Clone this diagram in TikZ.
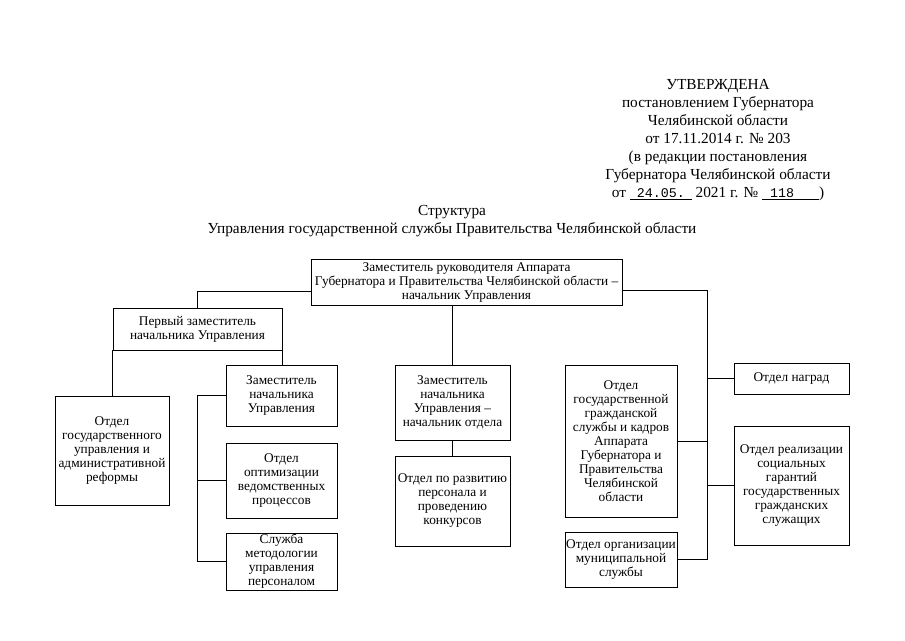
\documentclass[tikz,border=0pt]{standalone}
\usepackage{fontspec}
\setmainfont{Liberation Serif}
\setmonofont{Liberation Mono}
\usetikzlibrary{positioning}
\usetikzlibrary{calc}

\begin{document}
\begin{tikzpicture}[x=0.75pt,y=-0.75pt,
  unit/.style={draw, line width=0.6pt, align=center, inner sep=1pt, font=\fontsize{10}{10.5}\selectfont},
  boxsize/.style 2 args={minimum width=#1*0.75pt, minimum height=#2*0.75pt},
  head/.style={align=center, inner sep=0pt, font=\fontsize{11.5}{13.5}\selectfont},
  link/.style={line width=0.6pt}]
\useasboundingbox (0,0) rectangle (905,640);

\node[head] (utv) at (718,140) {УТВЕРЖДЕНА\\
постановлением Губернатора\\
Челябинской области\\
от 17.11.2014 г. № 203\\
(в редакции постановления\\
Губернатора Челябинской области\\
от \underline{\makebox[46.5pt]{\fontsize{10}{10}\ttfamily 24.05.}} 2021 г. № \underline{\makebox[42.75pt][l]{\hspace{6pt}\fontsize{10}{10}\ttfamily 118}})};

\node[head] (title) at (452,221) {Структура\\
Управления государственной службы Правительства Челябинской области};

\node[unit, boxsize={311}{46}] (top) at (466.5,282) {Заместитель руководителя Аппарата\\
Губернатора и Правительства Челябинской области –\\
начальник Управления};
\node[unit, boxsize={169}{42}] (first) at (197.5,329) {Первый заместитель\\
начальника Управления};
\node[unit, boxsize={114}{109}] (gosupr) at (112,450.5) {Отдел\\
государственного\\
управления и\\
административной\\
реформы};
\node[unit, boxsize={111}{61}] (zam) at (281.5,395.5) {Заместитель\\
начальника\\
Управления};
\node[unit, boxsize={111}{75}] (optim) at (281.5,480.5) {Отдел\\
оптимизации\\
ведомственных\\
процессов};
\node[unit, boxsize={111}{57}] (metod) at (281.5,561.5) {Служба\\
методологии\\
управления\\
персоналом};
\node[unit, boxsize={115}{75}] (zamotd) at (452.5,402.5) {Заместитель\\
начальника\\
Управления –\\
начальник отдела};
\node[unit, boxsize={115}{90}] (razv) at (452.5,501) {Отдел по развитию\\
персонала и\\
проведению\\
конкурсов};
\node[unit, boxsize={112}{152}] (kadry) at (621,441) {Отдел\\
государственной\\
гражданской\\
службы и кадров\\
Аппарата\\
Губернатора и\\
Правительства\\
Челябинской\\
области};
\node[unit, boxsize={112}{55}] (munic) at (621,559.5) {Отдел организации\\
муниципальной\\
службы};
\node[unit, boxsize={115}{31}] (nagrad) at (791.5,378.5) {Отдел наград};
\node[unit, boxsize={115}{119}] (soc) at (791.5,485.5) {Отдел реализации\\
социальных\\
гарантий\\
государственных\\
гражданских\\
служащих};

\coordinate (ltop) at (197,291);
\coordinate (rtop) at (707,290);
\coordinate (rbot) at (707,559.5);
\coordinate (lbus) at (197,396);

\draw[link] (top.west |- ltop) -| (first.north);
\draw[link] (top.east |- rtop) -- (rtop) -- (rbot) -- (munic.east);
\draw[link] (nagrad.west) -- (nagrad.west -| rtop);
\draw[link] (kadry.east) -- (kadry.east -| rtop);
\draw[link] (soc.west) -- (soc.west -| rtop);
\draw[link] (top.south -| zamotd.north) -- (zamotd.north);
\draw[link] (zamotd.south) -- (razv.north);
\draw[link] (first.south west) -- (first.south west |- gosupr.north);
\draw[link] (first.south east) -- (first.south east |- zam.north);
\draw[link] (zam.west) -- (zam.west -| lbus) |- (metod.west);
\draw[link] (optim.west) -- (optim.west -| lbus);
\end{tikzpicture}
\end{document}
